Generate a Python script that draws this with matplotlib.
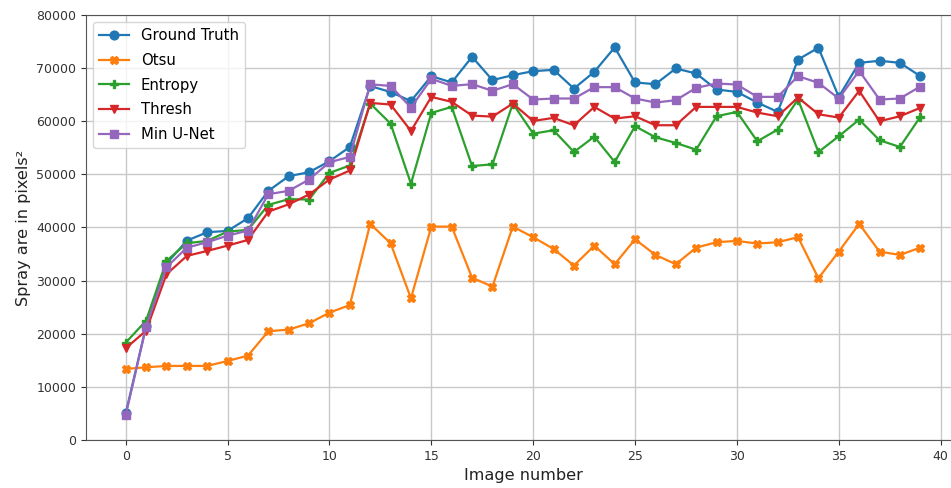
import matplotlib
matplotlib.use("Agg")
import matplotlib.pyplot as plt
import numpy as np

image_numbers = list(range(40))

ground_truth = [5030, 21400, 33200, 37530, 39110, 39360, 41750, 46890, 49660, 50410,
                52480, 55160, 66630, 65500, 63800, 68490, 67300, 72130, 67740, 68680,
                69430, 69680, 66160, 69300, 73900, 67300, 66980, 69930, 68990, 65970,
                65530, 63520, 61760, 71620, 73840, 64590, 71000, 71380, 71000, 68490]

otsu = [13370, 13690, 13940, 13940, 13940, 14880, 15880, 20470, 20780, 21970,
        23980, 25400, 40680, 37040, 26680, 40170, 40170, 30560, 28870, 40170,
        38170, 35970, 32830, 36590, 33090, 37770, 34840, 33090, 36210, 37230,
        37480, 36970, 37230, 38170, 30450, 35460, 40680, 35460, 34840, 36210]

entropy = [18320, 22470, 33710, 37040, 37480, 39230, 39550, 44260, 45330, 45270,
           50280, 51670, 63330, 59560, 48240, 61570, 62700, 51570, 51890, 63330,
           57670, 58300, 54210, 57110, 52330, 59060, 56990, 55910, 54650, 60940,
           61760, 56230, 58430, 64090, 54210, 57170, 60310, 56420, 55160, 60820]

thresh = [17270, 20580, 31200, 34650, 35590, 36590, 37660, 42990, 44360, 46210,
          49030, 50730, 63450, 63150, 58170, 64590, 63650, 61070, 60870, 63330,
          60060, 60630, 59250, 62700, 60500, 60940, 59250, 59250, 62700, 62700,
          62700, 61630, 60940, 64460, 61320, 60690, 65720, 60000, 60940, 62520]

min_unet = [4710, 21340, 32520, 36210, 37230, 38470, 39420, 46270, 46900, 49030,
            52290, 53290, 66950, 66650, 62580, 67980, 66660, 66980, 65730, 66980,
            64090, 64280, 64280, 66420, 66420, 64280, 63520, 63960, 66290, 67110,
            66910, 64590, 64590, 68490, 67230, 64280, 69490, 64090, 64280, 66540]

series_names = ["Ground Truth", "Otsu", "Entropy", "Thresh", "Min U-Net"]
series_values = [ground_truth, otsu, entropy, thresh, min_unet]
markers = ["o", "X", "P", "v", "s"]
colors = ["#1f77b4", "#ff7f0e", "#2ca02c", "#d62728", "#9467bd"]

W, H = 951, 488
fig = plt.figure(figsize=(W / 100, H / 100), dpi=100)
ax = fig.add_axes([86 / W, (H - 440) / H, 874 / W, 425 / H])

for name, vals, m, c in zip(series_names, series_values, markers, colors):
    ax.plot(image_numbers, vals, marker=m, color=c, label=name,
            linewidth=1.6, markersize=6.3)

ax.set_ylim(0, 80000)
ax.set_xlim(-1.95, 40.95)
ax.set_xticks([0, 5, 10, 15, 20, 25, 30, 35, 40])
ax.set_yticks(np.arange(0, 80001, 10000))
ax.grid(True, color="#c8c8c8", linewidth=1.0)
ax.set_axisbelow(True)
ax.tick_params(labelsize=9, colors="#333333")
for sp in ax.spines.values():
    sp.set_color("#555555")
ax.set_xlabel("Image number", fontsize=11.6, color="#222222")
ax.set_ylabel("Spray are in pixels²", fontsize=11.6, color="#222222")
ax.legend(loc="upper left", fontsize=10.7, labelspacing=0.65)

fig.savefig("out.png", dpi=100)
